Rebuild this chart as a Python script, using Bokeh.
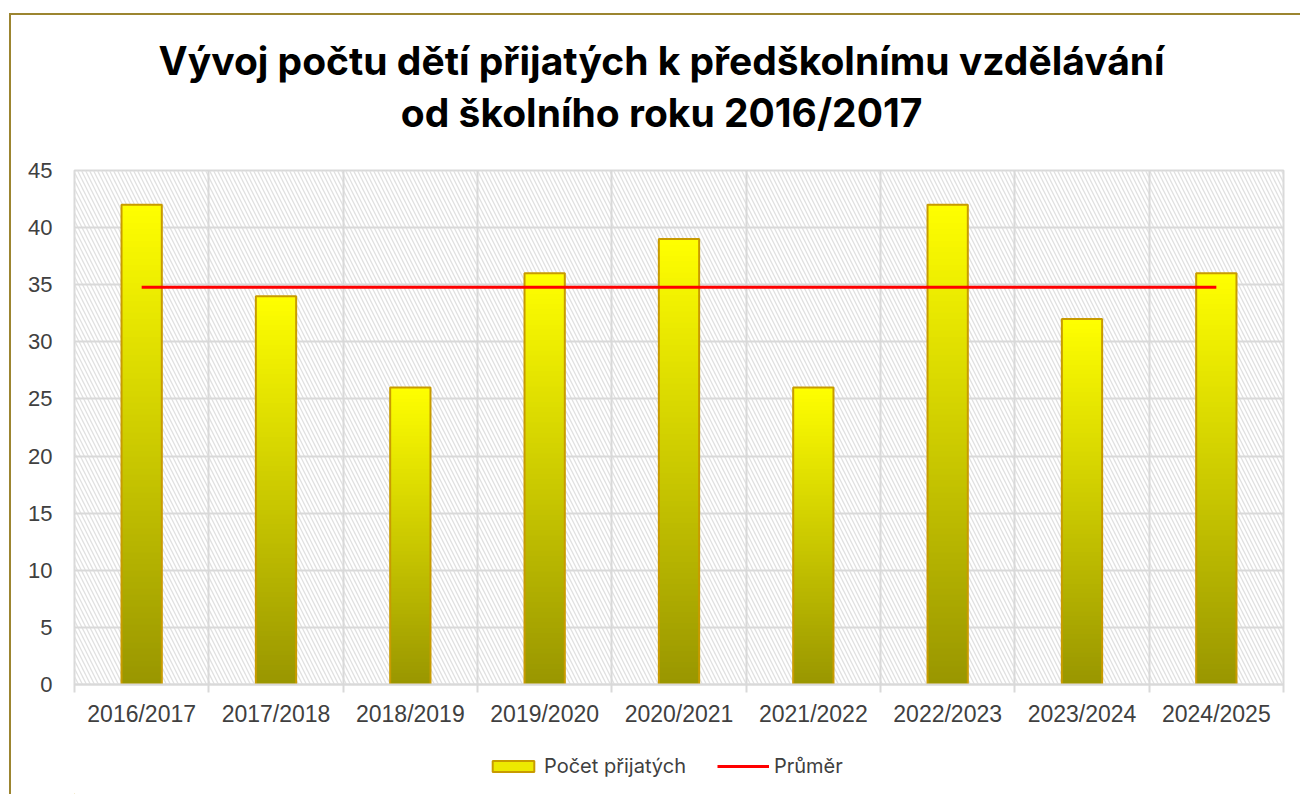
import numpy as np
from bokeh.plotting import figure
from bokeh.layouts import column
from bokeh.core.properties import value
from bokeh.models import (FixedTicker, Range1d, BoxAnnotation, Legend, LegendItem,
                          ColumnDataSource)
from bokeh.embed import file_html
from bokeh.resources import INLINE

# ---- data ----
categories = ["2016/2017", "2017/2018", "2018/2019", "2019/2020", "2020/2021",
              "2021/2022", "2022/2023", "2023/2024", "2024/2025"]
counts = [42, 34, 26, 36, 39, 26, 42, 32, 36]
y_ticks = [0, 5, 10, 15, 20, 25, 30, 35, 40, 45]
title_lines = ["Vývoj počtu dětí přijatých k předškolnímu vzdělávání",
               "od školního roku 2016/2017"]
series_names = ["Počet přijatých", "Průměr"]

n = len(categories)
avg = float(np.mean(counts))
centers = [i + 0.5 for i in range(n)]

W = 1289
H_HEAD, H_MAIN, H_LEG = 140, 593, 46

# ---- header with the two-line title ----
hd = figure(width=W, height=H_HEAD, output_backend="svg", toolbar_location=None,
            x_range=Range1d(0, W), y_range=Range1d(H_HEAD, 0), min_border=0,
            x_axis_type=None, y_axis_type=None)
hd.grid.visible = False
hd.outline_line_color = None
hd.background_fill_color = "white"
hd.border_fill_color = "white"
hd.text(x=[626, 626], y=[45, 97], text=title_lines, text_align="center",
        text_baseline="alphabetic", text_font=value("Inter"), text_font_size="39px",
        text_font_style="bold", text_color="#000000")

# ---- main chart ----
p = figure(width=W, height=H_MAIN, output_backend="svg", toolbar_location=None,
           x_range=Range1d(0, n), y_range=Range1d(0, 45),
           min_border_left=63, min_border_right=17, min_border_top=15,
           min_border_bottom=64)
p.background_fill_color = "white"
p.border_fill_color = "white"
p.outline_line_color = "#D9D9D9"
p.outline_line_width = 2

p.add_layout(BoxAnnotation(fill_color=None, line_color=None, hatch_pattern="\\",
                           hatch_color="#E0E0E0", hatch_scale=8, hatch_weight=1.3,
                           level="image"))

p.xgrid.ticker = FixedTicker(ticks=list(range(n + 1)))
p.ygrid.ticker = FixedTicker(ticks=y_ticks)
for g in (p.xgrid, p.ygrid):
    g.grid_line_color = "#D9D9D9"
    g.grid_line_width = 2

# gradient bars: nested layers from full height down, painted tallest first
nslice = 80
top_col = np.array([255, 255, 0])
bot_col = np.array([153, 150, 0])
L, R, B, T, C = [], [], [], [], []
bw = 0.3
for k in range(nslice, 0, -1):
    t = (k - 0.5) / nslice
    col = bot_col + (top_col - bot_col) * t
    hexcol = "#%02x%02x%02x" % tuple(int(round(c)) for c in col)
    for x, v in zip(centers, counts):
        L.append(x - bw / 2); R.append(x + bw / 2)
        B.append(0); T.append(v * k / nslice)
        C.append(hexcol)
src = ColumnDataSource(dict(left=L, right=R, bottom=B, top=T, color=C))
p.quad(left="left", right="right", bottom="bottom", top="top", source=src,
       fill_color="color", line_color=None)
p.vbar(x=centers, top=counts, bottom=0, width=bw, fill_color=None,
       line_color="#C89B00", line_width=2)

p.line(x=[centers[0], centers[-1]], y=[avg, avg], line_color="#FF0000", line_width=3)

p.yaxis.ticker = FixedTicker(ticks=y_ticks)
p.yaxis.axis_line_color = None
p.yaxis.major_tick_line_color = None
p.yaxis.minor_tick_line_color = None
p.yaxis.major_tick_out = 0
p.yaxis.major_label_standoff = 22
p.yaxis.major_label_text_font = "Liberation Sans"
p.yaxis.major_label_text_font_size = "22px"
p.yaxis.major_label_text_color = "#404040"

p.xaxis.ticker = FixedTicker(ticks=centers, minor_ticks=list(range(n + 1)))
p.xaxis.major_label_overrides = {c: lab for c, lab in zip(centers, categories)}
p.xaxis.axis_line_color = "#D9D9D9"
p.xaxis.axis_line_width = 2
p.xaxis.major_tick_line_color = None
p.xaxis.major_tick_out = 0
p.xaxis.minor_tick_line_color = "#D9D9D9"
p.xaxis.minor_tick_line_width = 2
p.xaxis.minor_tick_out = 8
p.xaxis.minor_tick_in = 0
p.xaxis.major_label_standoff = 8
p.xaxis.major_label_text_font = "Liberation Sans"
p.xaxis.major_label_text_font_size = "23px"
p.xaxis.major_label_text_color = "#404040"

# ---- legend strip (proxy renderers outside the visible range) ----
lg = figure(width=W, height=H_LEG, output_backend="svg", toolbar_location=None,
            x_range=Range1d(0, 1), y_range=Range1d(0, 1), min_border=0,
            x_axis_type=None, y_axis_type=None)
lg.grid.visible = False
lg.outline_line_color = None
lg.background_fill_color = "white"
lg.border_fill_color = "white"
sw = lg.vbar(x=[-5], top=[-5], width=0.1, fill_color="#EDE900", line_color="#C89B00", line_width=2)
ln = lg.line(x=[-5, -4], y=[-5, -5], line_color="#FF0000", line_width=3)
legend = Legend(items=[LegendItem(label=series_names[0], renderers=[sw]),
                       LegendItem(label=series_names[1], renderers=[ln])],
                orientation="horizontal", location=(413, 16),
                glyph_width=52, glyph_height=14, label_standoff=5, spacing=31,
                label_text_font="Inter", label_text_font_size="20px",
                label_text_color="#404040", border_line_color=None,
                background_fill_color=None, padding=4, margin=0)
lg.add_layout(legend, "center")

layout = column(hd, p, lg, spacing=0)
layout.styles = {"border-left": "2px solid #9C8530", "border-top": "2px solid #9C8530",
                 "margin-left": "9px", "margin-top": "13px"}

open("out.html", "w").write(file_html(layout, INLINE))
